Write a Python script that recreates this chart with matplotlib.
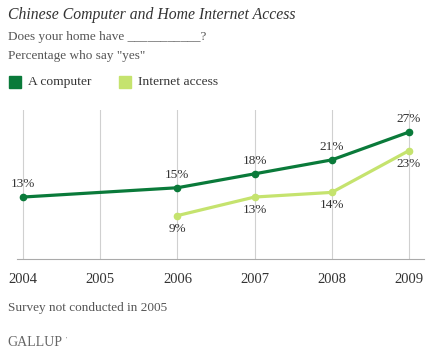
import matplotlib
matplotlib.use('Agg')
import matplotlib.pyplot as plt
from matplotlib.patches import Rectangle

years = [2004, 2005, 2006, 2007, 2008, 2009]
computer_years = [2004, 2006, 2007, 2008, 2009]
computer = [13, 15, 18, 21, 27]
internet_years = [2006, 2007, 2008, 2009]
internet = [9, 13, 14, 23]

dark_green = '#0a7a3a'
light_green = '#c5e36e'
grey_text = '#555555'

plt.rcParams['font.family'] = ['Liberation Serif', 'DejaVu Serif']

W, H = 434, 354
fig = plt.figure(figsize=(W / 100, H / 100), dpi=100)


def fx(px):
    return px / W


def fy(py):
    return 1 - py / H


fig.text(fx(8), fy(15), 'Chinese Computer and Home Internet Access', fontsize=11.3,
         style='italic', color='#333333', va='center', ha='left')
fig.text(fx(8), fy(37), 'Does your home have ___________?', fontsize=9.5,
         color=grey_text, va='center', ha='left')
fig.text(fx(8), fy(56), 'Percentage who say "yes"', fontsize=9.5,
         color=grey_text, va='center', ha='left')

# legend
fig.patches.append(Rectangle((fx(9), fy(88)), fx(12), 12 / H, transform=fig.transFigure,
                             color=dark_green, figure=fig))
fig.text(fx(28), fy(82), 'A computer', fontsize=9.7, color='#333333', va='center', ha='left')
fig.patches.append(Rectangle((fx(119), fy(88)), fx(12), 12 / H, transform=fig.transFigure,
                             color=light_green, figure=fig))
fig.text(fx(138), fy(82), 'Internet access', fontsize=9.7, color='#333333', va='center', ha='left')

ax = fig.add_axes([fx(17), fy(259), fx(407), (259 - 110) / H])
ax.set_xlim(2004 - 6 / 77.2, 2009 + 15 / 77.2)
ax.set_ylim(-0.35, 31.75)

for y in years:
    ax.axvline(y, color='#d0d0d0', lw=0.8, zorder=0)

ax.plot(computer_years, computer, color=dark_green, lw=2.3, marker='o', ms=4.5, zorder=3)
ax.plot(internet_years, internet, color=light_green, lw=2.3, marker='o', ms=4.5, zorder=2)

for x, v in zip(computer_years, computer):
    ax.annotate(f'{v}%', (x, v), xytext=(0, 5), textcoords='offset points',
                ha='center', va='bottom', fontsize=9.5, color='#333333')
for x, v in zip(internet_years, internet):
    ax.annotate(f'{v}%', (x, v), xytext=(0, -5), textcoords='offset points',
                ha='center', va='top', fontsize=9.5, color='#333333')

for s in ['top', 'right', 'left']:
    ax.spines[s].set_visible(False)
ax.spines['bottom'].set_color('#aaaaaa')
ax.spines['bottom'].set_linewidth(0.8)
ax.set_yticks([])
ax.set_xticks(years)
ax.set_xticklabels([str(y) for y in years], fontsize=10.5, color='#333333')
ax.tick_params(axis='x', length=0, pad=10)

fig.text(fx(8), fy(308), 'Survey not conducted in 2005', fontsize=9.5,
         color=grey_text, va='center', ha='left')
fig.text(fx(7), fy(343), 'GALLUP', fontsize=10, color='#666666', va='center', ha='left')
fig.text(fx(66), fy(339), "'", fontsize=5, color='#666666', va='center', ha='left')

fig.savefig('out.png', dpi=100)
